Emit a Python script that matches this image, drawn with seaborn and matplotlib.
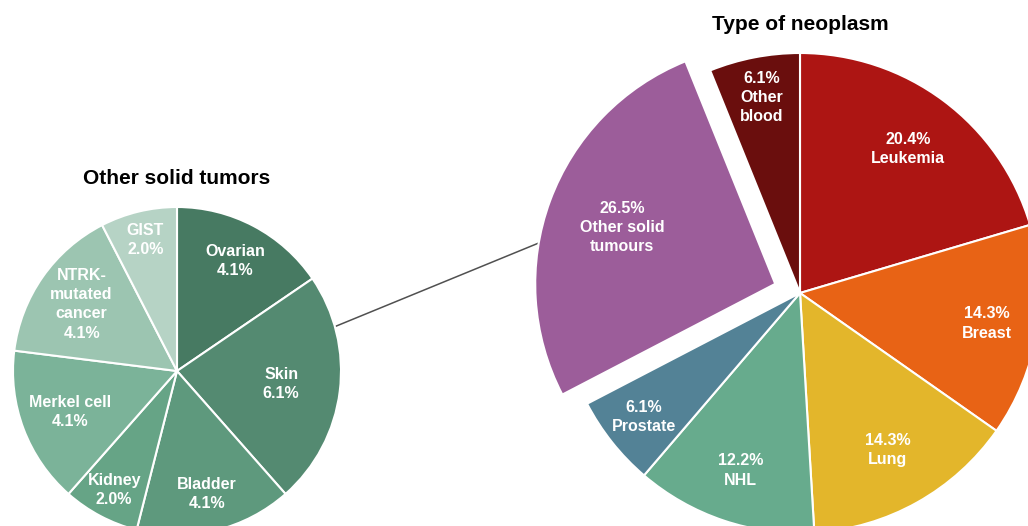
import numpy as np
import matplotlib
matplotlib.use("Agg")
import matplotlib.pyplot as plt
import seaborn as sns

# ---- data ----
main_labels = ["Leukemia", "Breast", "Lung", "NHL", "Prostate", "Other solid\ntumours", "Other\nblood"]
main_values = [20.4, 14.3, 14.3, 12.2, 6.1, 26.5, 6.1]
main_colors = ["#AD1513", "#E86315", "#E3B62B", "#67AB8D", "#538296", "#9C5D9A", "#6A0E0D"]

sub_labels = ["Ovarian", "Skin", "Bladder", "Kidney", "Merkel cell", "NTRK-\nmutated\ncancer", "GIST"]
sub_values = [4.1, 6.1, 4.1, 2.0, 4.1, 4.1, 2.0]
sub_colors = ["#477A62", "#548A71", "#5E997D", "#66A486", "#7BB399", "#9CC5B1", "#B6D3C5"]

main_title = "Type of neoplasm"
sub_title = "Other solid tumors"

# ---- style ----
sns.set_theme(style="white")
plt.rcParams["font.family"] = ["Liberation Sans", "DejaVu Sans"]

W, H = 1028, 526
fig = plt.figure(figsize=(W / 100, H / 100), dpi=100)
ax = fig.add_axes([0, 0, 1, 1])

main_center = (800, H - 293)
main_r = 240
sub_center = (177, H - 371)
sub_r = 164

explode_idx = main_labels.index("Other solid\ntumours")
# matplotlib's explode offset is in data units, so scale by radius
explode = [0.11 * main_r if i == explode_idx else 0 for i in range(len(main_values))]

wp = dict(edgecolor="white", linewidth=1.5)
main_wedges, _ = ax.pie(main_values, colors=main_colors, startangle=90, counterclock=False,
                        explode=explode, center=main_center, radius=main_r,
                        wedgeprops=wp, normalize=True)
sub_wedges, _ = ax.pie(sub_values, colors=sub_colors, startangle=90, counterclock=False,
                       center=sub_center, radius=sub_r, wedgeprops=wp, normalize=True)

main_dist = [0.75, 0.79, 0.75, 0.78, 0.83, 0.68, 0.83]
sub_dist = [0.76, 0.64, 0.77, 0.82, 0.70, 0.71, 0.82]


def place(wedges, texts, dists):
    for w, t, d in zip(wedges, texts, dists):
        ang = np.deg2rad((w.theta1 + w.theta2) / 2)
        cx, cy = w.center
        ax.text(cx + d * w.r * np.cos(ang), cy + d * w.r * np.sin(ang), t,
                ha="center", va="center", color="white", fontsize=11.5,
                fontweight="bold", linespacing=1.35, zorder=5)


main_texts = [f"{v:.1f}%\n{lab}" for lab, v in zip(main_labels, main_values)]
sub_texts = [f"{lab}\n{v:.1f}%" for lab, v in zip(sub_labels, sub_values)]

place(main_wedges, main_texts, main_dist)
place(sub_wedges, sub_texts, sub_dist)

# connector line between pies
ew = main_wedges[explode_idx]
a1 = np.deg2rad(15.7)
a2 = np.deg2rad(170.2)
x1 = sub_center[0] + sub_r * np.cos(a1)
y1 = sub_center[1] + sub_r * np.sin(a1)
x2 = ew.center[0] + ew.r * np.cos(a2)
y2 = ew.center[1] + ew.r * np.sin(a2)
ax.plot([x1, x2], [y1, y2], color="#505050", lw=1.1, zorder=0)

ax.text(main_center[0], H - 24, main_title, ha="center", va="center",
        fontsize=15, fontweight="bold", color="black")
ax.text(sub_center[0], H - 178, sub_title, ha="center", va="center",
        fontsize=15, fontweight="bold", color="black")

ax.set_xlim(0, W)
ax.set_ylim(0, H)
ax.set_aspect("equal")
ax.set_position([0, 0, 1, 1])
ax.axis("off")

fig.savefig("out.png", dpi=100)
